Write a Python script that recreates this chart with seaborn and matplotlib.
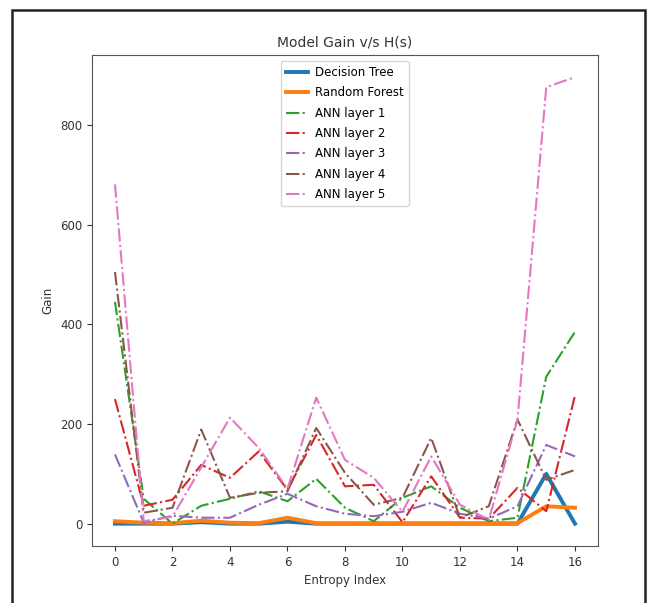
import numpy as np
import pandas as pd
import matplotlib
matplotlib.use('Agg')
import matplotlib.pyplot as plt
import seaborn as sns
from matplotlib.patches import Rectangle

# ── Data ──────────────────────────────────────────────
entropy_idx = list(range(17))
decision_tree = [0, 0, 0, 3, 0, 0, 4, 0, 0, 0, 0, 0, 0, 0, 0, 100, 0]
random_forest = [5, 2, 1, 6, 2, 1, 12, 1, 1, 1, 1, 1, 1, 1, 1, 35, 32]
ann_1 = [445, 50, 0, 36, 50, 65, 45, 90, 32, 5, 52, 75, 32, 5, 12, 295, 385]
ann_2 = [250, 36, 48, 118, 92, 145, 68, 178, 75, 78, 3, 95, 12, 10, 72, 25, 257]
ann_3 = [139, 2, 16, 12, 12, 38, 60, 35, 20, 15, 24, 42, 20, 10, 35, 158, 135]
ann_4 = [505, 22, 32, 189, 52, 62, 65, 192, 102, 38, 52, 172, 12, 35, 209, 88, 108]
ann_5 = [681, 5, 14, 113, 213, 152, 70, 253, 128, 92, 24, 135, 38, 8, 209, 876, 896]

series = {
    'Decision Tree': decision_tree,
    'Random Forest': random_forest,
    'ANN layer 1': ann_1,
    'ANN layer 2': ann_2,
    'ANN layer 3': ann_3,
    'ANN layer 4': ann_4,
    'ANN layer 5': ann_5,
}
colors = sns.color_palette('tab10', 7)

# ── Plot ───────────────────────────────────────────────
fig = plt.figure(figsize=(6.5, 6.03), dpi=100)
ax = fig.add_axes([0.1415, 0.0945, 0.7785, 0.8145])

for (name, vals), c in zip(series.items(), colors):
    if name.startswith('ANN'):
        sns.lineplot(x=entropy_idx, y=vals, ax=ax, color=c, label=name,
                     linestyle='-.', linewidth=1.5)
    else:
        sns.lineplot(x=entropy_idx, y=vals, ax=ax, color=c, label=name,
                     linewidth=2.8)

ax.set_xticks(range(0, 17, 2))
ax.set_yticks([0, 200, 400, 600, 800])
ax.tick_params(labelsize=8.5, colors='#333333')
ax.set_title('Model Gain v/s H(s)', fontsize=10, color='#333333')
ax.set_xlabel('Entropy Index', fontsize=8.5, color='#333333')
ax.set_ylabel('Gain', fontsize=8.5, color='#333333')
for s in ax.spines.values():
    s.set_color('#555555')
ax.legend(loc='upper center', fontsize=8.5, handlelength=1.8,
          handletextpad=0.6, labelspacing=0.62, borderpad=0.45)

# screenshot frame
fig.patches.append(Rectangle((0.0185, -0.02), 0.974, 1.003, transform=fig.transFigure,
                             fill=False, edgecolor='#222222', linewidth=1.8))

fig.savefig('out.png', dpi=100)
